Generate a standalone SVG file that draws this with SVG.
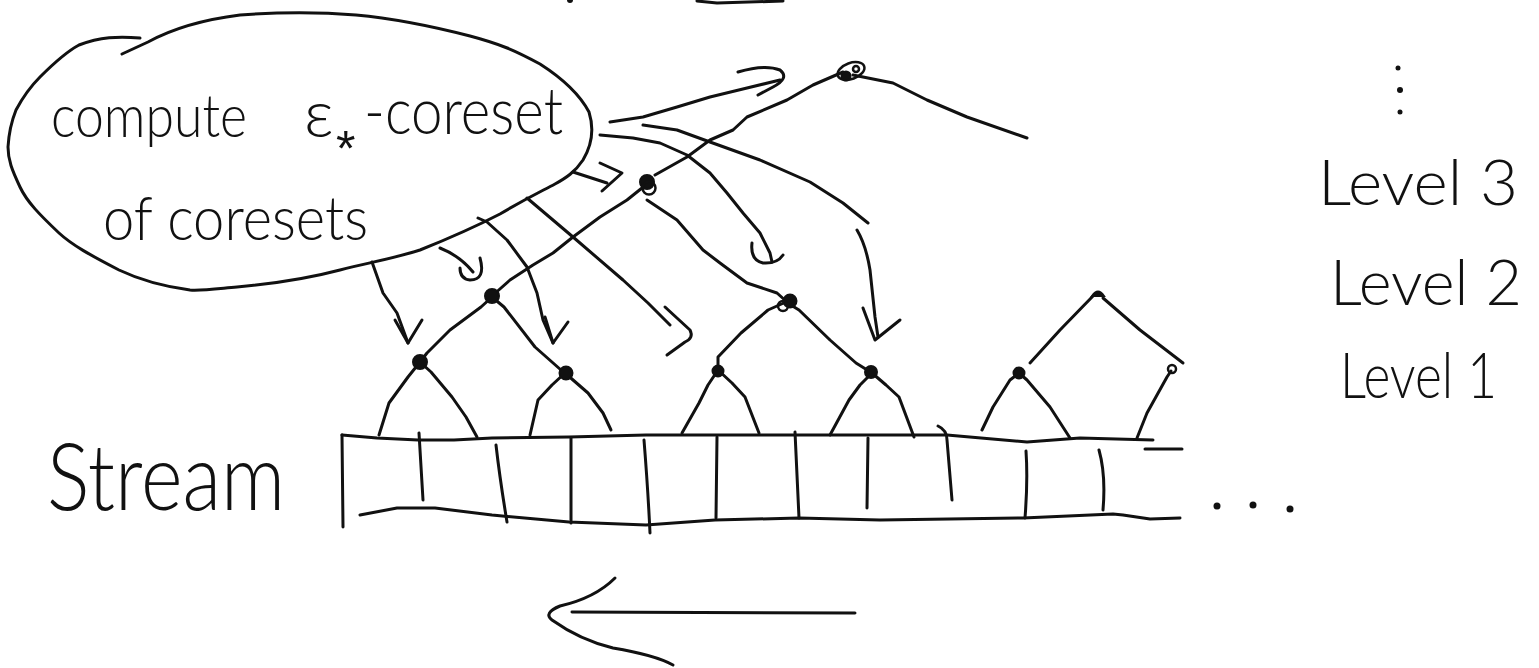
<svg xmlns="http://www.w3.org/2000/svg" width="1539" height="668" viewBox="0 0 1539 668">
<style>
.s{fill:none;stroke:#111;stroke-width:3;stroke-linecap:round;stroke-linejoin:round}
.t{font-family:Lato,"Liberation Sans",sans-serif;font-weight:300;fill:#111}
.n{fill:#111;stroke:#111;stroke-width:2}
.o{fill:none;stroke:#111;stroke-width:2.5}
</style>
<rect width="1539" height="668" fill="#fff"/>
<g id="topmarks">
<circle cx="570" cy="0" r="3" fill="#111"/>
<path class="s" d="M697,1 L717,3 L783,1"/>
</g>
<g id="bubble">
<path class="s" d="M122,54 L148,42 C170,30 200,20 240,15 C280,12 320,12 356,15 C400,19 435,27 470,36 C500,44 514,50 540,64 C565,80 580,95 589,112 C594,128 592,145 583,160 C575,172 566,178 555,184 C540,192 527,198 500,214 C473,228 445,240 420,250 C395,258 372,262 340,270 C310,278 270,284 237,287 C215,289 200,291 190,290 C160,286 140,280 119,270 C90,255 72,245 59,233 C40,215 27,202 20,187 C12,170 8,160 8,147 C9,130 12,120 16,110 C24,95 30,87 40,77 C55,62 66,52 79,45 C100,37 118,36 140,38"/>
<text class="t" font-size="60" x="51" y="137"><tspan textLength="196" lengthAdjust="spacingAndGlyphs">compute</tspan> <tspan x="304" font-size="66">ε</tspan><tspan x="336" y="166" font-size="50" font-family="Liberation Sans, sans-serif" font-weight="400">*</tspan><tspan x="364" y="134" font-size="66" textLength="199" lengthAdjust="spacingAndGlyphs">-coreset</tspan></text>
<text class="t" font-size="62" x="103" y="240" textLength="265" lengthAdjust="spacingAndGlyphs">of coresets</text>
</g>
<g id="stream">
<text class="t" font-size="92" x="47" y="510" textLength="238" lengthAdjust="spacingAndGlyphs">Stream</text>
<path class="s" d="M342,435 L343,527"/>
<path class="s" d="M342,435 L377,438 L418,440 L454,440 L492,438 L569,437 L646,435 L741,435 L880,435 L947,435 L1027,442 L1080,438 L1153,440"/>
<path class="s" d="M1145,449 L1182,449"/>
<path class="s" d="M360,515 L397,508 L435,508 L492,515 L569,522 L646,525 L715,520 L799,518 L880,520 L1023,518 L1113,514 L1123,515 L1150,519 L1180,518"/>
<path class="s" d="M419,433 L423,500"/>
<path class="s" d="M496,445 Q500,480 507,522"/>
<path class="s" d="M571,438 L571,523"/>
<path class="s" d="M644,440 Q648,490 650,533"/>
<path class="s" d="M717,437 L716,518"/>
<path class="s" d="M795,432 L799,518"/>
<path class="s" d="M868,438 L867,508"/>
<path class="s" d="M938,426 Q947,430 947,440 L952,500"/>
<path class="s" d="M1026,451 Q1028,480 1025,518"/>
<path class="s" d="M1099,450 Q1106,475 1103,510"/>
<circle cx="1217" cy="506" r="3.5" fill="#111"/>
<circle cx="1253" cy="505" r="3.5" fill="#111"/>
<circle cx="1290" cy="509" r="3.5" fill="#111"/>
</g>
<g id="levels">
<circle cx="1398" cy="68" r="2.5" fill="#111"/>
<circle cx="1400" cy="90" r="3" fill="#111"/>
<circle cx="1400" cy="112" r="2.5" fill="#111"/>
<text class="t" font-size="64" x="1318" y="205" textLength="200" lengthAdjust="spacingAndGlyphs">Level 3</text>
<text class="t" font-size="64" x="1330" y="305" textLength="192" lengthAdjust="spacingAndGlyphs">Level 2</text>
<text class="t" font-size="64" x="1340" y="398" textLength="157" lengthAdjust="spacingAndGlyphs">Level 1</text>
</g>
<g id="tree-edges">
<path class="s" d="M420,362 L408,377 L389,403 L379,435"/>
<path class="s" d="M420,362 L431,372 L452,397 L466,417 L477,437"/>
<path class="s" d="M565,373 L552,385 L538,400 L530,435"/>
<path class="s" d="M565,373 L588,393 L603,413 L611,430"/>
<path class="s" d="M718,370 L708,385 L699,403 L682,433"/>
<path class="s" d="M718,370 L732,383 L745,397 L759,433"/>
<path class="s" d="M872,373 L860,385 L849,400 L830,435"/>
<path class="s" d="M872,373 L886,385 L899,397 L914,437"/>
<path class="s" d="M1019,373 L1010,380 L993,407 L982,430"/>
<path class="s" d="M1019,373 L1027,380 L1050,407 L1070,438"/>
<path class="s" d="M1171,371 L1167,377 L1147,413 L1137,438"/>
<path class="s" d="M492,297 L481,307 L450,330 L427,353 L420,362"/>
<path class="s" d="M492,297 L504,307 L535,347 L561,370"/>
<path class="s" d="M786,302 L768,310 L741,333 L718,357 L718,370"/>
<path class="s" d="M786,302 L799,310 L830,340 L856,363 L872,373"/>
<path class="s" d="M1093,296 L1060,330 L1030,363"/>
<path class="s" d="M1103,298 L1140,330 L1183,363"/>
<path class="s" d="M647,184 L627,200 L600,217 L573,237 L553,253 L533,265 L510,280 L492,296"/>
<path class="s" d="M647,200 L677,220 L703,250 L720,263 L747,283 L777,293 L787,302"/>
<path class="s" d="M655,175 L687,157 L710,140 L733,130 L747,117 L787,100 L813,85 L843,72"/>
<path class="s" d="M853,75 L893,83 L927,100 L967,117 L1027,138"/>
</g>
<g id="nodes">
<circle class="n" cx="420" cy="362" r="7"/>
<circle class="n" cx="566" cy="373" r="6.5"/>
<circle class="n" cx="718" cy="371" r="5.5"/>
<circle class="n" cx="871" cy="372" r="6"/>
<circle class="n" cx="1019" cy="373" r="5.5"/>
<circle class="o" cx="1172" cy="369" r="4"/>
<circle class="n" cx="492" cy="296" r="7"/>
<circle class="n" cx="790" cy="301" r="6.5"/>
<circle class="o" cx="783" cy="306" r="5"/>
<path class="n" d="M1092,296 Q1098,287 1104,296 Z"/>
<circle class="n" cx="647" cy="182" r="7"/>
<circle class="o" cx="649" cy="188" r="6.5"/>
<ellipse class="o" cx="851" cy="71" rx="14" ry="8" transform="rotate(-20 851 71)"/>
<circle class="n" cx="846" cy="76" r="4.5"/>
<circle class="o" cx="856" cy="69" r="3"/>
</g>
<g id="connectors">
<path class="s" d="M610,122 L643,117 L677,107 L710,97 L747,88 L780,80"/>
<path class="s" d="M738,72 Q765,64 780,70 Q790,78 773,87 L758,95"/>
<path class="s" d="M600,135 L633,138 L660,143 L687,155 L710,173 L727,193 L743,213 L760,233 L770,253 L772,262"/>
<path class="s" d="M752,243 Q750,260 763,263 Q777,264 783,255"/>
<path class="s" d="M643,125 L677,130 L710,142 L760,160 L810,182 L843,203 L868,223"/>
<path class="s" d="M857,230 Q866,245 870,270 L875,317 L878,337"/>
<path class="s" d="M863,308 L875,340 L900,320"/>
<path class="s" d="M573,172 L607,183"/>
<path class="s" d="M600,163 L622,173 L602,191"/>
<path class="s" d="M527,198 L573,237 L623,280 L648,303 L670,325"/>
<path class="s" d="M665,307 L690,330 Q694,338 685,342 L667,355"/>
<path class="s" d="M478,218 L487,222 L507,240 L527,267 L537,293 L543,320 L553,343"/>
<path class="s" d="M545,317 L553,343 L568,322"/>
<path class="s" d="M372,262 L383,293 L397,313 L408,343"/>
<path class="s" d="M395,320 L408,343 L422,320"/>
<path class="s" d="M440,248 Q460,256 473,272"/>
<path class="s" d="M480,258 Q486,280 470,280 Q460,279 460,268"/>
<path class="s" d="M572,612 L855,613"/>
<path class="s" d="M615,578 Q595,598 560,606 Q543,613 552,620 Q580,640 613,648 Q655,655 673,665"/>
</g>
</svg>
